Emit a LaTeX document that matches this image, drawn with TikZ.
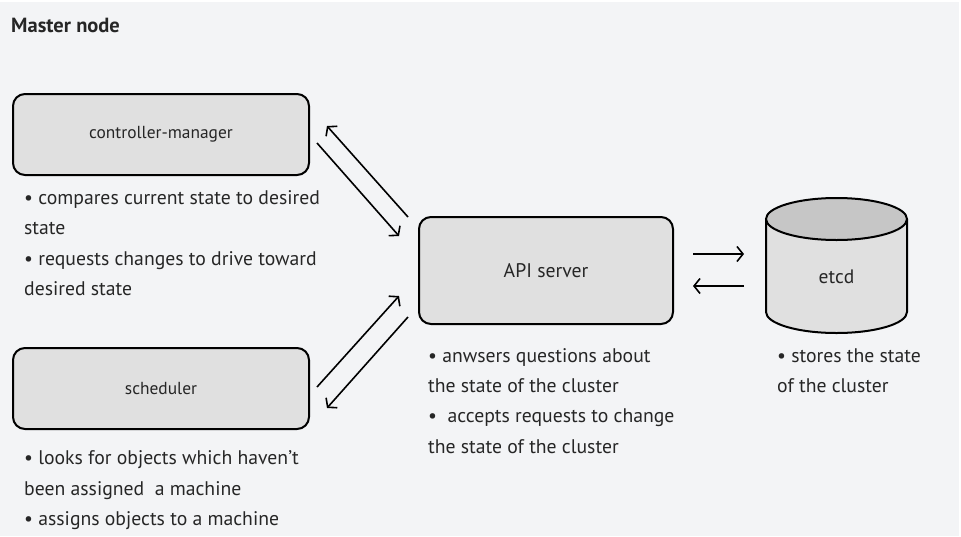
\documentclass[tikz,border=0pt]{standalone}
\usepackage{fontspec}
\setmainfont{PT Sans}
\usetikzlibrary{arrows.meta}
\definecolor{bg}{HTML}{F3F4F6}
\definecolor{boxfill}{HTML}{E0E0E0}
\definecolor{topfill}{HTML}{C6C6C6}
\definecolor{txt}{HTML}{262626}
\begin{document}
\begin{tikzpicture}[x=1pt,y=-1pt,
  box/.style={draw=black,line width=2pt,fill=boxfill,rounded corners=12pt,text=txt,font=\fontsize{17.4}{20}\selectfont},
  desc/.style={anchor=base west,inner sep=0pt,text=txt,font=\fontsize{19.7}{22}\selectfont},
  arr/.style={line width=1.6pt,-{Straight Barb[length=6pt,width=15pt,line width=1.6pt]}}]
\useasboundingbox (0,0) rectangle (961,536);
\fill[bg] (0,2) rectangle (959,536);
\node[anchor=base west,inner sep=0pt,text=txt,font=\fontsize{20.5}{24}\selectfont\bfseries] (title) at (11,32) {Master node};
% boxes
\node[box,minimum width=296pt,minimum height=81pt] (cm) at (161,134.5) {controller-manager};
\node[box,minimum width=296pt,minimum height=81pt] (sch) at (161,388.5) {scheduler};
\node[box,minimum width=254pt,minimum height=107pt,font=\fontsize{19.7}{22}\selectfont] (api) at (546,270.5) {API server};
% etcd cylinder
\fill[boxfill] (766,219) -- (766,312) arc[start angle=180,end angle=360,x radius=70.5pt,y radius=21pt] -- (907,219) -- cycle;
\draw[line width=2pt] (766,219) -- (766,312) arc[start angle=180,end angle=360,x radius=70.5pt,y radius=21pt] -- (907,219);
\draw[line width=2pt,fill=topfill] (836.5,219) ellipse[x radius=70.5pt,y radius=21pt];
\node[text=txt,font=\fontsize{19.5}{22}\selectfont] (etcd) at (836.5,277) {etcd};
% descriptions
\node[desc] (cm1) at (24,204) {• compares current state to desired};
\node[desc] (cm2) at (24,234) {state};
\node[desc] (cm3) at (24,265) {• requests changes to drive toward};
\node[desc] (cm4) at (24,295) {desired state};
\node[desc] (s1) at (24,464) {• looks for objects which haven’t};
\node[desc] (s2) at (24,495) {been assigned\ \ a machine};
\node[desc] (s3) at (24,525) {• assigns objects to a machine};
\node[desc] (a1) at (428,362) {• anwsers questions about};
\node[desc] (a2) at (428,392) {the state of the cluster};
\node[desc] (a3) at (428,422) {•\ \ accepts requests to change};
\node[desc] (a4) at (428,453) {the state of the cluster};
\node[desc] (e1) at (777,362) {• stores the state};
\node[desc] (e2) at (777,392) {of the cluster};
% connector end points
\coordinate (p1) at (408,217); \coordinate (q1) at (327,126);
\coordinate (p2) at (317,143); \coordinate (q2) at (399,236);
\coordinate (p3) at (317,387); \coordinate (q3) at (399,296);
\coordinate (p4) at (408,317); \coordinate (q4) at (327,408);
\coordinate (p5) at (693,254); \coordinate (q5) at (744,254);
\coordinate (p6) at (744,286); \coordinate (q6) at (693,286);
\draw[arr] (p1) -- (q1);
\draw[arr] (p2) -- (q2);
\draw[arr] (p3) -- (q3);
\draw[arr] (p4) -- (q4);
\draw[arr] (p5) -- (q5);
\draw[arr] (p6) -- (q6);
\end{tikzpicture}
\end{document}
